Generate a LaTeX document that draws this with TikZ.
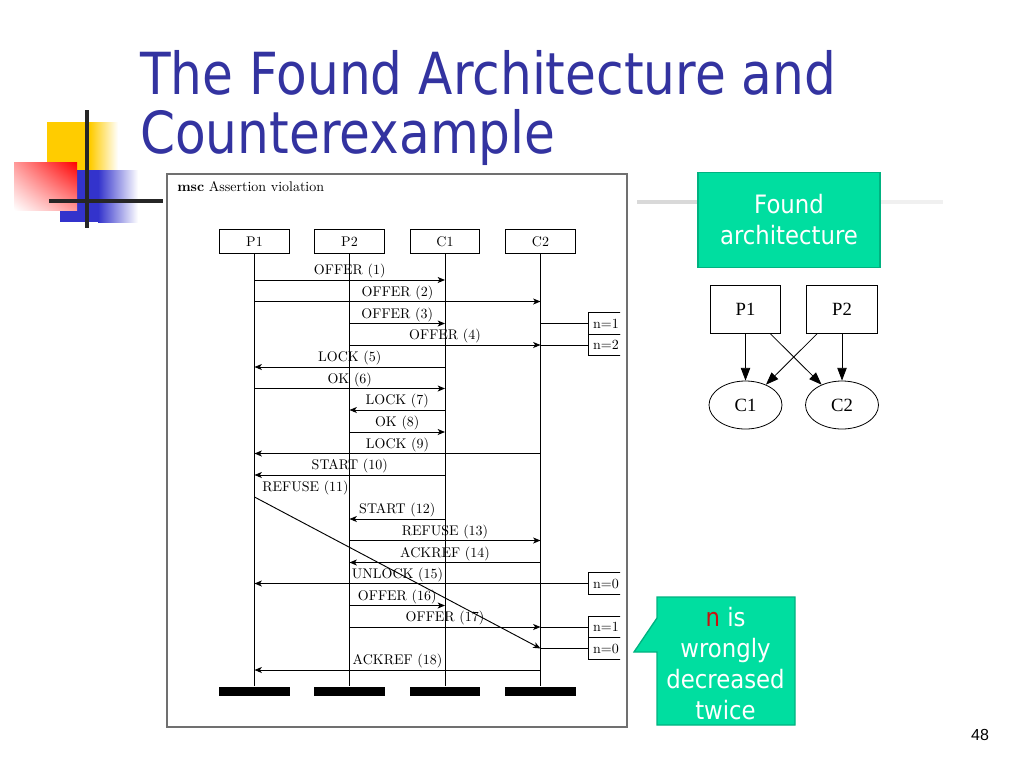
\documentclass[tikz,border=0pt]{standalone}
\usepackage{fontspec}
\usetikzlibrary{arrows.meta,shapes.geometric,shadings}
\newfontfamily\slidefont[FakeStretch=0.9]{DejaVu Sans}
\newfontfamily\titlefont[FakeStretch=0.865]{DejaVu Sans}
\newfontfamily\graphfont{Liberation Serif}
\newfontfamily\pagefont{Liberation Sans}
\definecolor{titleblue}{RGB}{51,51,160}
\definecolor{notegreen}{RGB}{0,222,160}
\definecolor{noteborder}{RGB}{0,178,128}
\definecolor{logoyellow}{RGB}{255,204,0}
\definecolor{logoblue}{RGB}{51,51,204}
\definecolor{framegray}{RGB}{112,112,112}
\definecolor{notered}{RGB}{200,16,16}

\tikzset{
  inst/.style={draw, line width=0.75pt, minimum width=52pt, minimum height=17.5pt, inner sep=0pt, font=\fontsize{10.5}{12}\selectfont},
  instend/.style={fill=black, minimum width=53pt, minimum height=6.75pt, inner sep=0pt},
  msg/.style={line width=0.7pt, -{Stealth[length=5.5pt,width=4.5pt,inset=1.5pt]}},
  msglabel/.style={above, inner sep=1pt, font=\fontsize{10.5}{12}\selectfont},
  cond/.style={draw, line width=0.7pt, anchor=west, minimum height=16pt, text width=20pt, align=left, inner xsep=3.5pt, inner ysep=0pt, font=\fontsize{10.5}{12}\selectfont},
  gbox/.style={draw, line width=0.6pt, minimum width=53pt, minimum height=36pt, inner sep=0pt, font=\graphfont\fontsize{14}{15}\selectfont},
  gell/.style={ellipse, draw, line width=0.6pt, minimum width=54.75pt, minimum height=36pt, inner sep=0pt, font=\graphfont\fontsize{14}{15}\selectfont},
  garrow/.style={line width=0.6pt, -{Triangle[length=9.5pt,width=7pt]}},
  greenbox/.style={fill=notegreen, draw=noteborder, line width=1pt, text=white, align=center, font=\slidefont\fontsize{19}{23.25}\selectfont},
}

\begin{document}
\begin{tikzpicture}[x=0.75pt,y=0.75pt,yscale=-1,xscale=1]
\useasboundingbox (0,0) rectangle (1024,768);

% slide logo
\fill [logoyellow] (47,122) rectangle (90,190);
\shade [left color=logoyellow, right color=white] (90,122) rectangle (118,190);
\fill [logoblue] (60,170) rectangle (98,222);
\shade [left color=logoblue, right color=white] (98,170) rectangle (138,222);
\shade [upper right=red, upper left={red!40!white}, lower right={red!40!white}, lower left=white] (14,162) rectangle (77,210);
\draw [line width=3pt, black!85]  (87,110) -- (87,228) ;
\draw [line width=3pt, black!85]  (49,201) -- (163,201) ;
\draw [line width=3pt, black!15]  (637,202) -- (698,202) ;
\draw [line width=3pt, black!6]  (880,202) -- (943,202) ;

% Text Node
\node [anchor=base west, inner sep=0pt, text=titleblue, font=\titlefont\fontsize{43.5}{44}\selectfont] (title1) at (140,94) {The Found Architecture and};
% Text Node
\node [anchor=base west, inner sep=0pt, text=titleblue, font=\titlefont\fontsize{43.5}{44}\selectfont] (title2) at (140,153) {Counterexample};

% msc frame
\draw [framegray, line width=1.5pt, fill=white] (167,174) rectangle (627,727);
\node [anchor=base west, inner sep=0pt, font=\fontsize{10.5}{12}\selectfont] (caption) at (177,191) {\textbf{msc} Assertion violation};

% instances
\node [inst] (hP1) at (254.5,241.5) {P1};
\node [inst] (hP2) at (349.5,241.5) {P2};
\node [inst] (hC1) at (445,241.5) {C1};
\node [inst] (hC2) at (540.5,241.5) {C2};
\node [instend] (eP1) at (254.5,691) {};
\node [instend] (eP2) at (349.5,691) {};
\node [instend] (eC1) at (445,691) {};
\node [instend] (eC2) at (540.5,691) {};
\draw [line width=0.75pt] (hP1.south) -- (eP1.north) ;
\draw [line width=0.75pt] (hP2.south) -- (eP2.north) ;
\draw [line width=0.75pt] (hC1.south) -- (eC1.north) ;
\draw [line width=0.75pt] (hC2.south) -- (eC2.north) ;

% conditions, cut at the right edge
\begin{scope}
\clip (560,300) rectangle (620,680);
\node [cond] (n1a) at (588,323.5) {n=1};
\node [cond] (n2a) at (588,345) {n=2};
\node [cond] (n0a) at (588,583.5) {n=0};
\node [cond] (n1b) at (588,627) {n=1};
\node [cond] (n0b) at (588,648.5) {n=0};
\end{scope}
\draw [line width=0.7pt] (hC2 |- n1a.west) -- (n1a.west) ;
\draw [line width=0.7pt] (hC2 |- n2a.west) -- (n2a.west) ;
\draw [line width=0.7pt] (hC2 |- n0a.west) -- (n0a.west) ;
\draw [line width=0.7pt] (hC2 |- n1b.west) -- (n1b.west) ;
\draw [line width=0.7pt] (hC2 |- n0b.west) -- (n0b.west) ;

% messages
\draw [msg] (hP1 |- 0,280) -- (hC1 |- 0,280) node [msglabel, midway] {OFFER (1)};
\draw [msg] (hP1 |- 0,301.5) -- (hC2 |- 0,301.5) node [msglabel, midway] {OFFER (2)};
\draw [msg] (hP2 |- 0,323.5) -- (hC1 |- 0,323.5) node [msglabel, midway] {OFFER (3)};
\draw [msg] (hP2 |- 0,345) -- (hC2 |- 0,345) node [msglabel, midway] {OFFER (4)};
\draw [msg] (hC1 |- 0,367) -- (hP1 |- 0,367) node [msglabel, midway] {LOCK (5)};
\draw [msg] (hP1 |- 0,388.5) -- (hC1 |- 0,388.5) node [msglabel, midway] {OK (6)};
\draw [msg] (hC1 |- 0,410) -- (hP2 |- 0,410) node [msglabel, midway] {LOCK (7)};
\draw [msg] (hP2 |- 0,432) -- (hC1 |- 0,432) node [msglabel, midway] {OK (8)};
\draw [msg] (hC2 |- 0,453.5) -- (hP1 |- 0,453.5) node [msglabel, midway] {LOCK (9)};
\draw [msg] (hC1 |- 0,475) -- (hP1 |- 0,475) node [msglabel, midway] {START (10)};
\draw [msg] (hP1 |- 0,497) -- (hC2 |- n0b.west) node [pos=0, anchor=south west, inner sep=1pt, xshift=4.5pt, font=\fontsize{10.5}{12}\selectfont] {REFUSE (11)};
\draw [msg] (hC1 |- 0,519) -- (hP2 |- 0,519) node [msglabel, midway] {START (12)};
\draw [msg] (hP2 |- 0,540.5) -- (hC2 |- 0,540.5) node [msglabel, midway] {REFUSE (13)};
\draw [msg] (hC2 |- 0,562.5) -- (hP2 |- 0,562.5) node [msglabel, midway] {ACKREF (14)};
\draw [msg] (hC2 |- n0a.west) -- (hP1 |- n0a.west) node [msglabel, midway] {UNLOCK (15)};
\draw [msg] (hP2 |- 0,605.5) -- (hC1 |- 0,605.5) node [msglabel, midway] {OFFER (16)};
\draw [msg] (hP2 |- n1b.west) -- (hC2 |- n1b.west) node [msglabel, midway] {OFFER (17)};
\draw [msg] (hC2 |- 0,670) -- (hP1 |- 0,670) node [msglabel, midway] {ACKREF (18)};

% found architecture
\node [greenbox, minimum width=136.5pt, minimum height=71.25pt] (found) at (789,220) {Found\\architecture};
\node [gbox] (gP1) at (745.5,309) {P1};
\node [gbox] (gP2) at (842,309) {P2};
\node [gell] (gC1) at (745.5,405) {C1};
\node [gell] (gC2) at (842,405) {C2};
\draw [garrow] (gP1) -- (gC1) ;
\draw [garrow] (gP1) -- (gC2) ;
\draw [garrow] (gP2) -- (gC1) ;
\draw [garrow] (gP2) -- (gC2) ;

% callout
\draw [fill=notegreen, draw=noteborder, line width=1pt] (657,597) -- (795,597) -- (795,725) -- (657,725) -- (657,652) -- (634,652) -- (657,618) -- cycle ;
\node [align=center, text=white, inner sep=0pt, font=\slidefont\fontsize{19}{23.25}\selectfont] (note) at (725.5,664) {\textcolor{notered}{n} is\\wrongly\\decreased\\twice};

% Text Node
\node [font=\pagefont\fontsize{12}{14}\selectfont] (pagenum) at (980,735) {48};

\end{tikzpicture}
\end{document}
